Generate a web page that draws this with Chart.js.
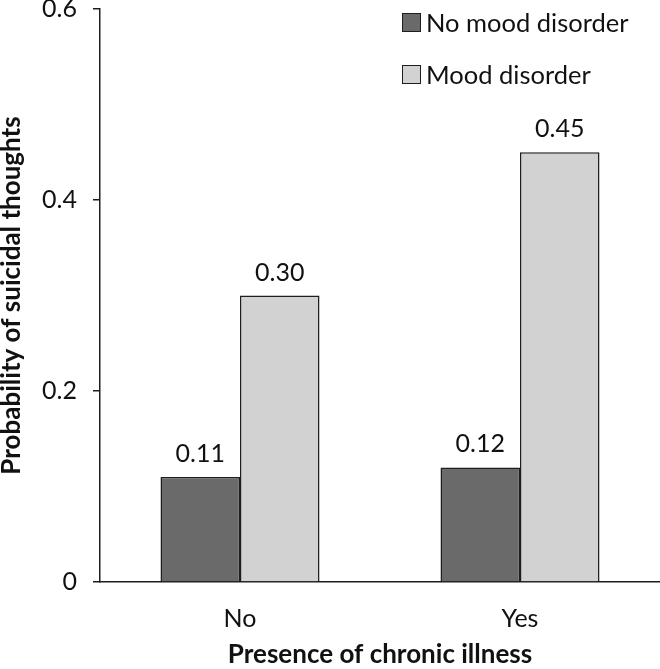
<!DOCTYPE html>
<html>
<head>
<meta charset="utf-8">
<script src="https://cdn.jsdelivr.net/npm/chart.js@4.4.1/dist/chart.umd.min.js"></script>
<style>
  html, body { margin: 0; padding: 0; background: #fff; }
  #wrap { position: relative; width: 660px; height: 669px; }
  #legend { position: absolute; left: 402px; top: 8px; font-family: Lato, sans-serif; font-size: 25.5px; color: #111; }
  .item { display: flex; align-items: center; height: 28px; margin-bottom: 24px; white-space: nowrap; }
  .box { width: 19px; height: 19px; border: 1.5px solid #1e1e1e; margin-right: 5px; box-sizing: border-box; }
</style>
</head>
<body>
<div id="wrap">
  <canvas id="c"></canvas>
  <div id="legend"></div>
</div>
<script>
const categories = ['No', 'Yes'];
const seriesNames = ['No mood disorder', 'Mood disorder'];
const noMoodValues = [0.11, 0.12];
const moodValues = [0.30, 0.45];
const yTickValues = [0, 0.2, 0.4, 0.6];
const xTitle = 'Presence of chronic illness';
const yTitle = 'Probability of suicidal thoughts';
const seriesColors = ['#6a6a6a', '#d2d2d2'];

const FONT = 'Lato';

// legend (HTML text)
const legendEl = document.getElementById('legend');
seriesNames.forEach((name, i) => {
  const item = document.createElement('div');
  item.className = 'item';
  const box = document.createElement('span');
  box.className = 'box';
  box.style.background = seriesColors[i];
  const txt = document.createElement('span');
  txt.textContent = name;
  item.appendChild(box);
  item.appendChild(txt);
  legendEl.appendChild(item);
});

const valueLabels = {
  id: 'valueLabels',
  afterDatasetsDraw(chart) {
    const ctx = chart.ctx;
    ctx.save();
    ctx.font = '25px ' + FONT;
    ctx.fillStyle = '#111';
    ctx.textAlign = 'center';
    ctx.textBaseline = 'alphabetic';
    chart.data.datasets.forEach((ds, di) => {
      const meta = chart.getDatasetMeta(di);
      meta.data.forEach((bar, i) => {
        ctx.fillText(ds.data[i].toFixed(2), bar.x, bar.y - 15);
      });
    });
    ctx.restore();
  }
};

new Chart(document.getElementById('c'), {
  type: 'bar',
  data: {
    labels: categories,
    datasets: [
      { label: seriesNames[0], data: noMoodValues, backgroundColor: seriesColors[0], borderColor: '#1e1e1e', borderWidth: 1.5 },
      { label: seriesNames[1], data: moodValues, backgroundColor: seriesColors[1], borderColor: '#1e1e1e', borderWidth: 1.5 }
    ]
  },
  options: {
    responsive: true,
    maintainAspectRatio: false,
    animation: false,
    layout: { padding: { top: 9, left: 0, right: 0, bottom: 0 } },
    categoryPercentage: 0.568,
    barPercentage: 1.0,
    plugins: { legend: { display: false }, tooltip: { enabled: false } },
    scales: {
      x: {
        grid: { display: false, drawTicks: false },
        border: { display: true, color: '#1e1e1e', width: 1.5 },
        ticks: { color: '#111', font: { family: FONT, size: 25 }, padding: 22 },
        title: { display: true, text: xTitle, color: '#111', font: { family: FONT, size: 26, weight: 'bold', lineHeight: 1.1 }, padding: { top: 0, bottom: 0 } },
        afterFit(scale) { scale.height = 87; scale.paddingLeft = 0; scale.paddingRight = 0; }
      },
      y: {
        min: 0,
        max: 0.6,
        afterBuildTicks(scale) { scale.ticks = yTickValues.map(v => ({ value: v })); },
        grid: { display: true, drawOnChartArea: false, drawTicks: true, tickLength: 7, color: '#1e1e1e', lineWidth: 1.5 },
        border: { display: true, color: '#1e1e1e', width: 1.5 },
        ticks: { color: '#111', font: { family: FONT, size: 25 }, padding: 16, callback: v => String(v) },
        title: { display: true, text: yTitle, align: 'center', color: '#111', font: { family: FONT, size: 26, weight: 'bold', lineHeight: 1.0 }, padding: { top: -1, bottom: 0 } },
        afterFit(scale) { scale.width = 100; scale.paddingTop = 0; scale.paddingBottom = 0; }
      }
    }
  },
  plugins: [valueLabels]
});
</script>
</body>
</html>
